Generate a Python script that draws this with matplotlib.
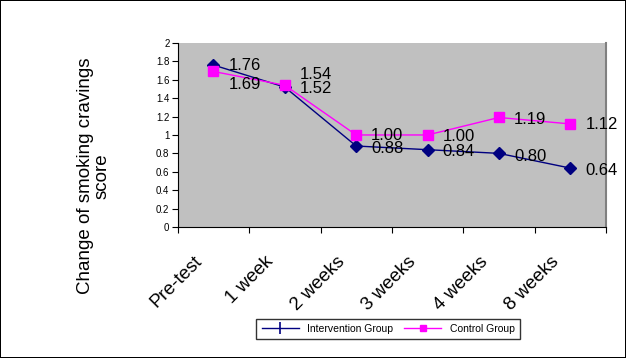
import matplotlib.pyplot as plt
from matplotlib.lines import Line2D
from matplotlib.transforms import ScaledTranslation

plt.rcParams['font.family'] = ['Liberation Sans', 'DejaVu Sans']

weeks = ['Pre-test', '1 week', '2 weeks', '3 weeks', '4 weeks', '8 weeks']
intervention = [1.76, 1.52, 0.88, 0.84, 0.80, 0.64]
control = [1.69, 1.54, 1.00, 1.00, 1.19, 1.12]
yticks = [0, 0.2, 0.4, 0.6, 0.8, 1, 1.2, 1.4, 1.6, 1.8, 2]

# vertical nudge (pixels) of the value labels, as placed in the original
int_dy = [0, -1, -2, -2, -3, -2]
ctl_dy = [-13, 11, -1, -2, -2, -1]

fig = plt.figure(figsize=(6.26, 3.58), dpi=100)
fig.patch.set_edgecolor('black')
fig.patch.set_linewidth(1.2)
ax = fig.add_axes([0.284, 0.366, 0.684, 0.514])
ax.set_facecolor('#C0C0C0')

x = list(range(len(weeks)))
ax.plot(x, intervention, color='#000080', lw=1, marker='D', ms=6,
        mfc='#000080', mec='#000080')
ax.plot(x, control, color='#FF00FF', lw=1, marker='s', ms=7.5,
        mfc='#FF00FF', mec='#FF00FF')

for i in x:
    ax.annotate('%.2f' % intervention[i], (i, intervention[i]),
                xytext=(15, int_dy[i]), textcoords='offset pixels',
                ha='left', va='center', fontsize=12, color='black')
    ax.annotate('%.2f' % control[i], (i, control[i]),
                xytext=(15, ctl_dy[i]), textcoords='offset pixels',
                ha='left', va='center', fontsize=12, color='black')

ax.set_xlim(-0.5, 5.5)
ax.set_ylim(0, 2)
ax.set_yticks(yticks)
ax.set_yticklabels(['%g' % v for v in yticks], fontsize=7)
ax.set_xticks([i + 0.5 for i in range(-1, 6)])
ax.set_xticklabels([])
ax.set_xticks(x, minor=True)
ax.set_xticklabels(weeks, minor=True, rotation=45, ha='right', va='center',
                   rotation_mode='anchor', fontsize=13.5)
ax.tick_params(axis='x', which='minor', length=0, pad=23)
ax.tick_params(axis='x', which='major', direction='out', length=4)
ax.tick_params(axis='y', direction='out', length=4, pad=2)
shift = ScaledTranslation(-14 / 100, 0, fig.dpi_scale_trans)
for lab in ax.get_xticklabels(minor=True):
    lab.set_transform(lab.get_transform() + shift)

ax.spines['top'].set_visible(False)
ax.spines['right'].set_color('#808080')
ax.spines['right'].set_linewidth(1.5)

fig.text(94 / 626, 1 - 176 / 358, 'Change of smoking cravings\nscore',
         rotation=90, ha='center', va='center', multialignment='center',
         fontsize=13.5, linespacing=1.0)

handles = [Line2D([], [], color='#000080', lw=1, marker='|', ms=8, mew=1.2),
           Line2D([], [], color='#FF00FF', lw=1, marker='s', ms=5)]
fig.legend(handles, ['Intervention Group', 'Control Group'], loc='center',
           bbox_to_anchor=(0.62, 0.081), ncol=2, fontsize=7.5, frameon=True,
           fancybox=False, edgecolor='black', handlelength=3.6,
           columnspacing=1, borderpad=0.5)

fig.savefig('out.png', dpi=100)
